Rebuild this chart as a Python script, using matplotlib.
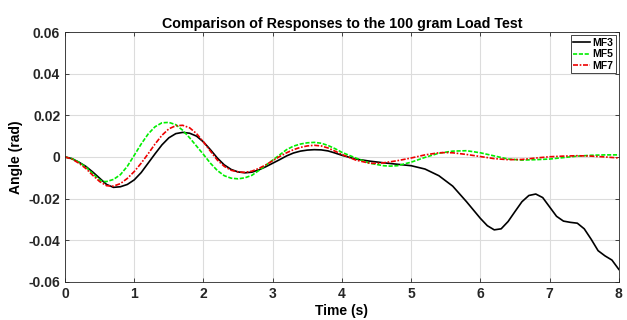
import matplotlib
matplotlib.use("Agg")
import matplotlib.pyplot as plt

# time samples (s) and angle readings (rad) for each controller
t_mf3 = [0, 0.1, 0.2, 0.3, 0.4, 0.5, 0.6, 0.7, 0.8, 0.9, 1.0, 1.1, 1.2, 1.3, 1.4, 1.5, 1.6, 1.7,
         1.8, 1.9, 2.0, 2.1, 2.2, 2.3, 2.4, 2.5, 2.6, 2.7, 2.8, 2.9, 3.0, 3.1, 3.2, 3.3, 3.4, 3.5,
         3.6, 3.7, 3.8, 3.9, 4.0, 4.2, 4.4, 4.6, 4.8, 5.0, 5.2, 5.4, 5.6, 5.8, 6.0, 6.1, 6.2, 6.3,
         6.4, 6.5, 6.6, 6.7, 6.8, 6.9, 7.0, 7.1, 7.2, 7.3, 7.4, 7.5, 7.6, 7.7, 7.8, 7.9, 8.0]
mf3 = [0, -0.0008, -0.0025, -0.0045, -0.0072, -0.0102, -0.0132, -0.0146, -0.0143, -0.0132,
       -0.0110, -0.0075, -0.0030, 0.0015, 0.0058, 0.0092, 0.0112, 0.0118, 0.0114, 0.0100,
       0.0072, 0.0035, -0.0005, -0.0038, -0.0060, -0.0072, -0.0076, -0.0073, -0.0062, -0.0047,
       -0.0030, -0.0013, 0.0005, 0.0019, 0.0028, 0.0033, 0.0035, 0.0034, 0.0029, 0.0019,
       0.0008, -0.0010, -0.0020, -0.0028, -0.0035, -0.0042, -0.0058, -0.0090, -0.0140, -0.0215,
       -0.0295, -0.0330, -0.0350, -0.0345, -0.0310, -0.0262, -0.0215, -0.0185, -0.0178, -0.0195,
       -0.0240, -0.0285, -0.0308, -0.0314, -0.0318, -0.0345, -0.0395, -0.0450, -0.0475, -0.0495,
       -0.0540]

t_mf5 = [0, 0.1, 0.2, 0.3, 0.4, 0.5, 0.55, 0.6, 0.7, 0.8, 0.9, 1.0, 1.1, 1.2, 1.3, 1.4, 1.5, 1.6,
         1.7, 1.8, 1.9, 2.0, 2.1, 2.2, 2.3, 2.4, 2.5, 2.6, 2.7, 2.8, 2.9, 3.0, 3.1, 3.2, 3.3, 3.4,
         3.5, 3.6, 3.7, 3.8, 3.9, 4.0, 4.2, 4.4, 4.6, 4.7, 4.8, 5.0, 5.2, 5.4, 5.6, 5.8, 6.0, 6.2,
         6.4, 6.6, 6.8, 7.0, 7.2, 7.4, 7.6, 7.8, 8.0]
mf5 = [0, -0.0008, -0.0025, -0.0048, -0.0080, -0.0110, -0.0118, -0.0118, -0.0108, -0.0085,
       -0.0045, 0.0008, 0.0062, 0.0110, 0.0145, 0.0164, 0.0166, 0.0155, 0.0128, 0.0092, 0.0052,
       0.0012, -0.0030, -0.0065, -0.0090, -0.0102, -0.0105, -0.0100, -0.0088, -0.0065, -0.0040,
       -0.0015, 0.0010, 0.0035, 0.0052, 0.0062, 0.0068, 0.0070, 0.0066, 0.0055, 0.0040, 0.0022,
       -0.0005, -0.0030, -0.0042, -0.0044, -0.0042, -0.0025, -0.0002, 0.0018, 0.0028, 0.0030,
       0.0020, 0.0005, -0.0010, -0.0015, -0.0013, -0.0010, -0.0003, 0.0004, 0.0008, 0.0010, 0.0010]

t_mf7 = [0, 0.1, 0.2, 0.3, 0.4, 0.5, 0.6, 0.7, 0.8, 0.9, 1.0, 1.1, 1.2, 1.3, 1.4, 1.5, 1.6, 1.7,
         1.8, 1.9, 2.0, 2.1, 2.2, 2.3, 2.4, 2.5, 2.6, 2.7, 2.8, 2.9, 3.0, 3.1, 3.2, 3.3, 3.4, 3.5,
         3.6, 3.7, 3.8, 3.9, 4.0, 4.2, 4.4, 4.5, 4.6, 4.8, 5.0, 5.2, 5.4, 5.5, 5.6, 5.8, 6.0, 6.2,
         6.4, 6.6, 6.8, 7.0, 7.2, 7.4, 7.6, 7.8, 8.0]
mf7 = [0, -0.0010, -0.0030, -0.0055, -0.0088, -0.0118, -0.0138, -0.0140, -0.0128, -0.0103,
       -0.0070, -0.0030, 0.0015, 0.0062, 0.0104, 0.0135, 0.0150, 0.0152, 0.0140, 0.0112, 0.0072,
       0.0028, -0.0015, -0.0045, -0.0064, -0.0072, -0.0074, -0.0068, -0.0055, -0.0038, -0.0018,
       0.0002, 0.0020, 0.0035, 0.0046, 0.0053, 0.0056, 0.0053, 0.0043, 0.0028, 0.0012, -0.0015,
       -0.0030, -0.0031, -0.0028, -0.0018, -0.0005, 0.0010, 0.0020, 0.0021, 0.0020, 0.0012,
       0.0002, -0.0008, -0.0013, -0.0012, -0.0005, 0.0001, 0.0004, 0.0006, 0.0004, 0.0000, -0.0005]

x_ticks = [0, 1, 2, 3, 4, 5, 6, 7, 8]
y_ticks = [-0.06, -0.04, -0.02, 0, 0.02, 0.04, 0.06]
y_labels = ["-0.06", "-0.04", "-0.02", "0", "0.02", "0.04", "0.06"]

plt.rcParams["font.family"] = ["Liberation Sans", "DejaVu Sans"]
plt.rcParams["font.weight"] = "bold"

fig = plt.figure(figsize=(6.27, 3.2), dpi=100)
ax = fig.add_axes([0.1037, 0.119, 0.8833, 0.781])

ax.plot(t_mf3, mf3, color="black", lw=1.2, ls="-", label="MF3")
ax.plot(t_mf5, mf5, color="#00ee00", lw=1.2, ls=(0, (2.5, 1.0)), label="MF5")
ax.plot(t_mf7, mf7, color="#ee0000", lw=1.2, ls=(0, (3.0, 1.0, 1.0, 1.0)), label="MF7")

ax.set_xlim(0, 8)
ax.set_ylim(-0.06, 0.06)
ax.set_xticks(x_ticks)
ax.set_yticks(y_ticks)
ax.set_yticklabels(y_labels)
ax.grid(True, color="#dcdcdc", lw=0.8)
ax.set_axisbelow(True)
ax.tick_params(direction="in", top=True, right=True, labelsize=10, colors="#262626",
               length=3, width=0.6)
for sp in ax.spines.values():
    sp.set_color("#262626")
    sp.set_linewidth(0.6)

ax.set_title("Comparison of Responses to the 100 gram Load Test", fontsize=10.3,
             fontweight="bold", pad=3)
ax.set_xlabel("Time (s)", fontsize=10, fontweight="bold", labelpad=2)
ax.set_ylabel("Angle (rad)", fontsize=10, fontweight="bold", labelpad=4)

leg = ax.legend(loc="upper right", fontsize=7.5, handlelength=1.6, handletextpad=0.2,
                borderpad=0.25, labelspacing=0.15, borderaxespad=0.3, fancybox=False,
                framealpha=1)
leg.get_frame().set_edgecolor("#262626")
leg.get_frame().set_linewidth(0.6)

fig.savefig("out.png", dpi=100)
